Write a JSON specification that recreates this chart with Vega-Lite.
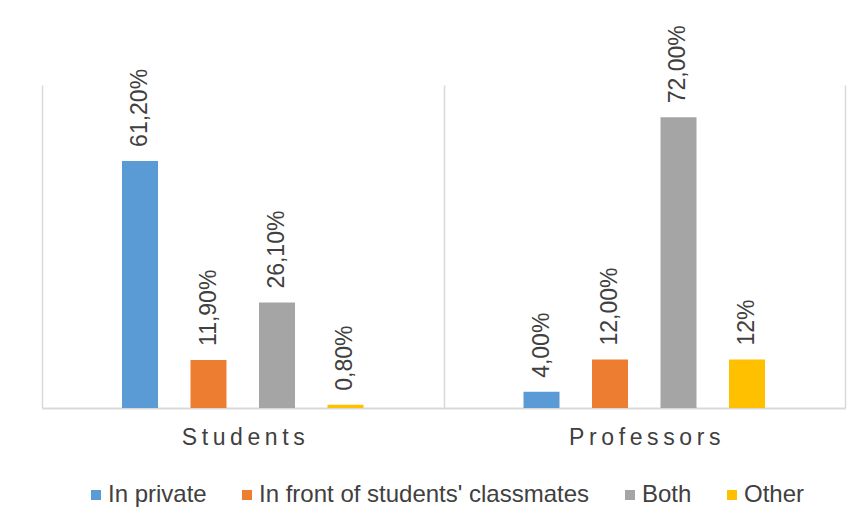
{
  "$schema": "https://vega.github.io/schema/vega-lite/v6.json",
  "width": 803,
  "height": 323,
  "autosize": "none",
  "padding": {"left": 42, "top": 85, "right": 22, "bottom": 121},
  "background": "white",
  "config": {"view": {"stroke": null}, "font": "Liberation Sans"},
  "data": {
    "values": [
      {"group": "Students", "category": "In private", "value": 61.2, "label": "61,20%"},
      {"group": "Students", "category": "In front of students' classmates", "value": 11.9, "label": "11,90%"},
      {"group": "Students", "category": "Both", "value": 26.1, "label": "26,10%"},
      {"group": "Students", "category": "Other", "value": 0.8, "label": "0,80%"},
      {"group": "Professors", "category": "In private", "value": 4.0, "label": "4,00%"},
      {"group": "Professors", "category": "In front of students' classmates", "value": 12.0, "label": "12,00%"},
      {"group": "Professors", "category": "Both", "value": 72.0, "label": "72,00%"},
      {"group": "Professors", "category": "Other", "value": 12.0, "label": "12%"}
    ]
  },
  "encoding": {
    "x": {
      "field": "group",
      "type": "nominal",
      "sort": ["Students", "Professors"],
      "scale": {"paddingInner": 0, "paddingOuter": 0},
      "axis": {
        "title": null,
        "labelAngle": 0,
        "ticks": false,
        "tickBand": "extent",
        "grid": true,
        "gridColor": "#d9d9d9",
        "gridWidth": 1.5,
        "domainColor": "#d9d9d9",
        "domainWidth": 2,
        "labelFont": "Liberation Sans",
        "labelFontSize": 23,
        "labelColor": "#404040",
        "labelPadding": 18,
        "labelExpr": "join(split(datum.label, ''), '\u2009')"
      }
    },
    "xOffset": {
      "field": "category",
      "type": "nominal",
      "scale": {
        "domain": ["_left", "In private", "In front of students' classmates", "Both", "Other", "_right"],
        "paddingInner": 0.4745,
        "paddingOuter": 0.168
      }
    },
    "y": {
      "field": "value",
      "type": "quantitative",
      "scale": {"domain": [0, 80]},
      "axis": null
    }
  },
  "layer": [
    {
      "mark": {"type": "bar"},
      "encoding": {
        "color": {
          "field": "category",
          "type": "nominal",
          "sort": ["In private", "In front of students' classmates", "Both", "Other"],
          "scale": {"range": ["#5B9BD5", "#ED7D31", "#A5A5A5", "#FFC000"]},
          "legend": {
            "orient": "none",
            "legendX": 42,
            "legendY": 398,
            "direction": "horizontal",
            "title": null,
            "symbolType": "square",
            "symbolSize": 100,
            "symbolStrokeWidth": 0,
            "labelFontSize": 24,
            "labelColor": "#404040",
            "labelOffset": 0,
            "columnPadding": 28,
            "labelLimit": 500
          }
        }
      }
    },
    {
      "mark": {"type": "text", "angle": 270, "align": "left", "baseline": "middle", "dx": 14, "fontSize": 23, "color": "#404040"},
      "encoding": {
        "text": {"field": "label"}
      }
    }
  ]
}
